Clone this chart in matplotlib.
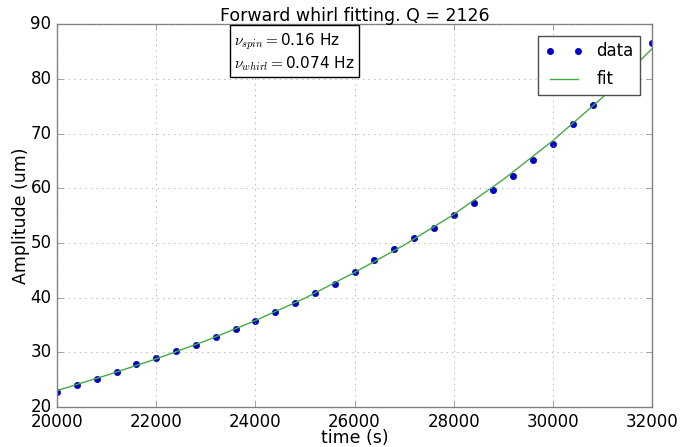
import matplotlib
matplotlib.use("Agg")
import matplotlib.pyplot as plt

plt.style.use('classic')

# data points
time_s = [20000, 20400, 20800, 21200, 21600, 22000, 22400, 22800, 23200, 23600,
          24000, 24400, 24800, 25200, 25600, 26000, 26400, 26800, 27200, 27600,
          28000, 28400, 28800, 29200, 29600, 30000, 30400, 30800, 31200, 31600, 32000]
amp_um = [22.7, 24.1, 25.1, 26.4, 27.8, 29.0, 30.2, 31.4, 32.8, 34.3,
          35.8, 37.4, 39.1, 40.8, 42.5, 44.6, 46.9, 48.8, 50.9, 52.8,
          55.1, 57.3, 59.6, 62.3, 65.2, 68.1, 71.8, 75.3, 79.0, 82.5, 86.6]

# fit curve
fit_time = [20000, 21000, 22000, 23000, 24000, 25000, 26000, 27000, 28000,
            29000, 30000, 31000, 32000]
fit_amp = [23.0, 25.8, 28.8, 32.1, 35.8, 39.9, 44.6, 49.6, 55.2,
           61.6, 68.7, 76.6, 85.5]

title = "Forward whirl fitting. Q = 2126"
info = "$\\nu_{spin}=$0.16 Hz\n$\\nu_{whirl}=$0.074 Hz"

fig = plt.figure(figsize=(6.98, 4.47), dpi=100, facecolor='white')
ax = fig.add_axes([0.0817, 0.0895, 0.8525, 0.8565])
ax.plot(time_s, amp_um, 'o', color='#0000cc', markersize=4.5, markeredgecolor='#0000aa', label='data')
ax.plot(fit_time, fit_amp, '-', color='#44aa44', lw=1, label='fit')
ax.set_xlim(20000, 32000)
ax.set_ylim(20, 90)
ax.grid(True, color='0.6')
for s in ax.spines.values():
    s.set_color('0.5')
ax.tick_params(labelsize=12, color='0.5')
ax.set_xlabel('time (s)', fontsize=12.5, labelpad=-1)
ax.set_ylabel('Amplitude (um)', fontsize=12.5, labelpad=0.5)
ax.set_title(title, fontsize=12.5, pad=2)
ax.text(0.298, 0.982, info, transform=ax.transAxes, fontsize=11, va='top', ha='left',
        bbox=dict(facecolor='white', edgecolor='black', pad=3))
leg = ax.legend(loc='upper right', numpoints=2, fontsize=12, borderaxespad=0.7,
                labelspacing=0.6, handlelength=2.3)
leg.get_frame().set_edgecolor('0.3')
fig.savefig('out.png', dpi=100, facecolor='white')
